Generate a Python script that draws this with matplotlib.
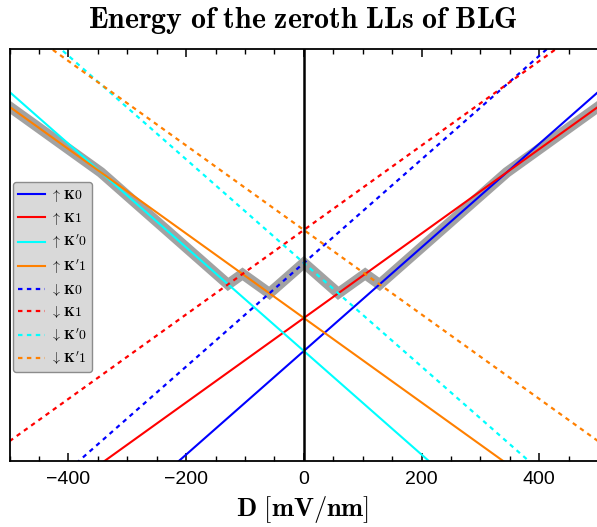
import numpy as np
import matplotlib.pyplot as plt
from matplotlib.ticker import MultipleLocator

plt.rcParams['mathtext.fontset'] = 'cm'

# D range (mV/nm) and level energies read at the two ends (arb. units)
D_ends = [-500, 500]
E_up_K0 = [-29.05, 18.05]
E_up_K1 = [-21.7, 16.7]
E_up_Kp0 = [18.05, -29.05]
E_up_Kp1 = [16.7, -21.7]
E_dn_K0 = [-21.05, 26.05]
E_dn_K1 = [-13.7, 24.7]
E_dn_Kp0 = [26.05, -21.05]
E_dn_Kp1 = [24.7, -13.7]

# gray curve (4th highest level), corners
D_gray = [-500, -344.8, -128.7, -104.2, -58.5, 0, 58.5, 104.2, 128.7, 344.8, 500]
E_gray = [16.7, 10.74, 0.56, 1.5, -0.25, 2.5, -0.25, 1.5, 0.56, 10.74, 16.7]

levels = [
    (E_up_K0, r'$\uparrow\,\mathbf{K0}$', '#0000ff', '-'),
    (E_up_K1, r'$\uparrow\,\mathbf{K1}$', '#ff0000', '-'),
    (E_up_Kp0, r"$\uparrow\,\mathbf{K'0}$", '#00ffff', '-'),
    (E_up_Kp1, r"$\uparrow\,\mathbf{K'1}$", '#ff8000', '-'),
    (E_dn_K0, r'$\downarrow\,\mathbf{K0}$', '#0000ff', '--'),
    (E_dn_K1, r'$\downarrow\,\mathbf{K1}$', '#ff0000', '--'),
    (E_dn_Kp0, r"$\downarrow\,\mathbf{K'0}$", '#00ffff', '--'),
    (E_dn_Kp1, r"$\downarrow\,\mathbf{K'1}$", '#ff8000', '--'),
]

fig = plt.figure(figsize=(5.97, 5.27), dpi=100)
ax = fig.add_axes([9.5 / 597, 1 - 461 / 527, 1.002 - 9.5 / 597, (461 - 49) / 527])

ax.plot(D_gray, E_gray, color='#a2a2a2', lw=7.6, solid_joinstyle='miter', zorder=1)

for E, lab, col, ls in levels:
    if ls == '--':
        ax.plot(D_ends, E, color=col, lw=1.6, dashes=(2.0, 2.0), label=lab, zorder=2)
    else:
        ax.plot(D_ends, E, color=col, lw=1.5, label=lab, zorder=2)

ax.axvline(0, color='black', lw=1.8, zorder=3)

ax.set_xlim(-500, 500)
ax.set_ylim(-15.5, 21.95)

ax.xaxis.set_major_locator(MultipleLocator(200))
ax.xaxis.set_minor_locator(MultipleLocator(50))
ax.tick_params(axis='x', which='both', direction='in', top=True, bottom=True)
ax.tick_params(axis='x', which='major', length=6, width=1.1, labelsize=14, pad=7)
ax.tick_params(axis='x', which='minor', length=3.5, width=1.0)
ax.set_yticks([])
ax.set_xticks([-400, -200, 0, 200, 400])
ax.set_xticklabels(['\u2212400', '\u2212200', '0', '200', '400'], family='Liberation Sans')
for sp in ax.spines.values():
    sp.set_linewidth(1.3)

leg = ax.legend(loc='upper left', bbox_to_anchor=(0.006, 0.677), borderaxespad=0,
                fontsize=10, labelspacing=0.45, handlelength=1.95, handletextpad=0.36,
                borderpad=0.35, fancybox=True, framealpha=1)
leg.get_frame().set_facecolor('#d9d9d9')
leg.get_frame().set_edgecolor('#8c8c8c')
leg.get_frame().set_linewidth(1.0)

fig.text(303 / 597, 1 - 28 / 527, r'$\mathbf{Energy\ of\ the\ zeroth\ LLs\ of\ BLG}$',
         ha='center', va='baseline', fontsize=21.5)
fig.text(303 / 597, 1 - 516 / 527, r'$\mathbf{D\ [mV/nm]}$',
         ha='center', va='baseline', fontsize=19)

fig.savefig('out.png', dpi=100)
